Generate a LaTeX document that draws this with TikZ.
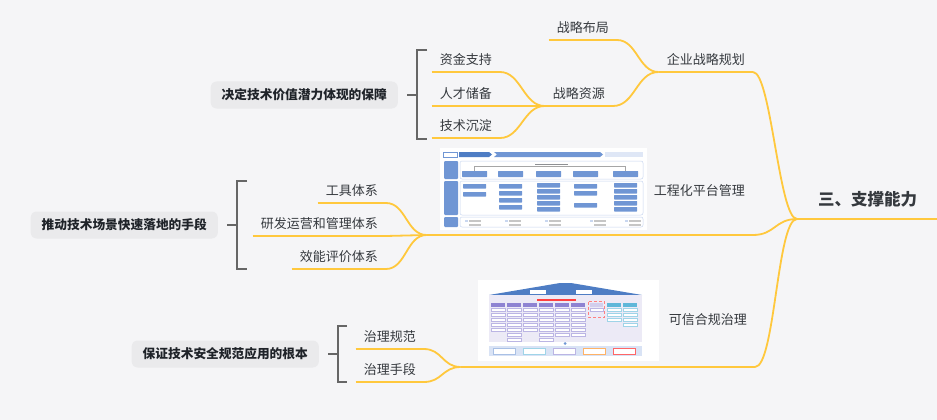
\documentclass[tikz,border=0pt]{standalone}
\usepackage{fontspec}
\setmainfont{Noto Sans CJK SC}
\usetikzlibrary{positioning}
\definecolor{canvas}{HTML}{F5F5F7}
\definecolor{branch}{HTML}{FFC83D}
\definecolor{bracketgray}{HTML}{666666}
\definecolor{boxgray}{HTML}{EAEAEC}
\definecolor{inkdark}{HTML}{1F2329}
\definecolor{shotblue}{HTML}{7096D4}
\definecolor{shotlight}{HTML}{C9D7F0}
\definecolor{roofblue}{HTML}{4E7DC4}
\definecolor{lavender}{HTML}{ECEAF6}
\definecolor{shotviolet}{HTML}{8E83D2}
\definecolor{shotcyan}{HTML}{5FB7D9}
\tikzset{%
  % Specifications for style of nodes:
       topic/.style = {inner sep=0pt, inner xsep=8pt, minimum height=24pt,
                       text=inkdark!90, font=\fontsize{13}{15}\selectfont},
     rootbox/.style = {topic, inner xsep=21pt, minimum height=40pt,
                       font=\fontsize{16.5}{19}\selectfont\bfseries},
      sumbox/.style = {rectangle, rounded corners=6pt, fill=boxgray,
                       inner sep=0pt, inner xsep=11pt, minimum height=27pt,
                       text=inkdark, font=\fontsize{12.7}{15}\selectfont\bfseries},
        link/.style = {draw=branch, line width=1.8pt},
     summary/.style = {draw=bracketgray, line width=1.8pt},
        cell/.style = {fill=shotblue, rounded corners=0.5pt},
   housecell/.style = {fill=white, draw=shotviolet!60, line width=0.3pt},
}
\begin{document}
\begin{tikzpicture}[x=1pt, y=-1pt]
  \fill[canvas] (0,0) rectangle (937,420);
  \useasboundingbox (0,0) rectangle (937,420);
  % Specification of nodes (position, etc.)
  \node (root) [rootbox, anchor=south west] at (797,219) {三、支撑能力};
  \node (qy)   [topic, anchor=south east] at (753,72)  {企业战略规划};
  \node (zlbj) [topic, anchor=south east] at (617,40)  {战略布局};
  \node (zlzy) [topic, anchor=south east] at (613,106) {战略资源};
  \node (zj)   [topic, anchor=south east] at (500,72)  {资金支持};
  \node (rc)   [topic, anchor=south east] at (500,106) {人才储备};
  \node (js)   [topic, anchor=south east] at (500,138) {技术沉淀};
  \node (eng)  [topic, anchor=south east, text width=310pt, align=right,
                minimum height=88pt] at (753,235) {工程化平台管理};
  \node (gj)   [topic, anchor=south east] at (386,203) {工具体系};
  \node (yf)   [topic, anchor=south east] at (386,236) {研发运营和管理体系};
  \node (xn)   [topic, anchor=south east] at (386,269) {效能评价体系};
  \node (kx)   [topic, anchor=south east, text width=278pt, align=right,
                minimum height=94pt] at (755,367) {可信合规治理};
  \node (zlgf) [topic, anchor=south east] at (424,349) {治理规范};
  \node (zlsd) [topic, anchor=south east] at (424,382) {治理手段};

  % summary brackets with their boxes
  \coordinate (b1) at (417,95);
  \coordinate (b2) at (237,225);
  \coordinate (b3) at (338,354);
  \draw[summary] (427,50)  -| (417,139) -- ++(10,0);
  \draw[summary] (247,181) -| (237,269) -- ++(10,0);
  \draw[summary] (347,326) -| (338,382) -- ++(9,0);
  \node (bz) [sumbox, left=19pt of b1] {决定技术价值潜力体现的保障};
  \node (tj) [sumbox, left=19pt of b2] {推动技术场景快速落地的手段};
  \node (bg) [sumbox, left=19pt of b3] {保证技术安全规范应用的根本};
  \draw[summary] ([xshift=9pt]bz.east) -- (b1);
  \draw[summary] ([xshift=9pt]tj.east) -- (b2);
  \draw[summary] ([xshift=9pt]bg.east) -- (b3);

  % screenshot of the platform
  \fill[white] (440,148) rectangle (647,230);
  \draw[shotblue, line width=0.5pt] (443,152) rectangle (457,157);
  \fill[roofblue] (459,152) -- (489,152) -- (492,154.5) -- (489,157) -- (459,157) -- cycle;
  \fill[shotblue] (494,152) -- (600,152) -- (603,154.5) -- (600,157) -- (494,157) -- (497,154.5) -- cycle;
  \fill[shotlight!60] (605,152) rectangle (643,157);
  \foreach \ya/\yb in {161/179,181/215,217/227} {
    \fill[shotblue, rounded corners=1pt] (444,\ya) rectangle (458,\yb);
    \draw[shotlight, rounded corners=2pt, line width=0.5pt] (460,\ya) rectangle (643,\yb);
  }
  \draw[gray!70, line width=0.4pt] (474.5,171) |- (625.5,166) -- (625.5,171);
  \fill[inkdark!50] (535,163.5) rectangle (568,165);
  \foreach \x in {462,498,536,573,613}
    \fill[cell] (\x,171) rectangle ++(25,6);
  \foreach \x/\ys in {463/{184,192},499/{184,191,198,205},537/{183,189,195,201,207},
                      574/{184,191,203},614/{183,189,195,201,207}}
    \foreach \y in \ys
      \fill[cell] (\x,\y) rectangle ++(23,4.5);
  \foreach \x in {465,505,545,590,625} {
    \fill[shotlight] (\x,219.5) rectangle ++(2.5,2.5);
    \fill[gray!45] (\x+4,220) rectangle ++(12,1.5);
    \fill[gray!45] (\x+4,224) rectangle ++(12,1.5);
  }

  % screenshot of the governance house
  \fill[white] (478,280) rectangle (659,361);
  \fill[roofblue] (489,295) -- (560,283) -- (571,283) -- (642,295) -- cycle;
  \fill[white] (530,289.5) rectangle ++(16,4);
  \fill[white] (576,289.5) rectangle ++(16,4);
  \fill[lavender] (489,295) rectangle (642,342);
  \fill[red!75] (537,298.5) rectangle (576,301);
  \foreach \x/\n in {491/5,507/7,523/5,539/7,555/6,571/6} {
    \fill[shotviolet] (\x,303) rectangle ++(14,3.5);
    \foreach \r in {1,...,\n}
      \filldraw[housecell] (\x,303+5*\r) rectangle ++(14,3.5);
  }
  \draw[red!50, densely dashed, line width=0.3pt] (588.5,301.5) rectangle (604.5,317);
  \fill[shotviolet!40] (590,303) rectangle ++(13,3.5);
  \filldraw[housecell] (590,308) rectangle ++(13,3.5);
  \foreach \x/\n in {607/3,623/4} {
    \fill[shotcyan] (\x,303) rectangle ++(14,3.5);
    \foreach \r in {1,...,\n}
      \filldraw[housecell, draw=shotcyan!60] (\x,303+5*\r) rectangle ++(14,3.5);
  }
  \fill[shotblue] (565,343.5) circle (1.5);
  \fill[shotlight!70] (489,346) rectangle (642,356);
  \foreach \x/\c in {493/shotblue,523/shotcyan,553/shotviolet,583/orange,613/red}
    \filldraw[fill=white, draw=\c!60, line width=0.4pt] (\x,348) rectangle ++(22,6);

  % Specification of lines between nodes specified above
  \foreach \n in {root,qy,zlbj,zlzy,zj,rc,js,eng,gj,yf,xn,kx,zlgf,zlsd}
    \draw[link] (\n.south west) -- (\n.south east);
  \draw[link] (root.south west) .. controls +(-18,0) and +(18,0) .. (qy.south east);
  \draw[link] (root.south west) .. controls +(-22,0) and +(22,0) .. (eng.south east);
  \draw[link] (root.south west) .. controls +(-20,0) and +(20,0) .. (kx.south east);
  \draw[link] (qy.south west) .. controls +(-20,0) and +(20,0) .. (zlbj.south east);
  \draw[link] (qy.south west) .. controls +(-22,0) and +(22,0) .. (zlzy.south east);
  \draw[link] (zlzy.south west) .. controls +(-21,0) and +(21,0) .. (zj.south east);
  \draw[link] (zlzy.south west) -- (rc.south east);
  \draw[link] (zlzy.south west) .. controls +(-21,0) and +(21,0) .. (js.south east);
  \draw[link] (eng.south west) .. controls +(-20,0) and +(20,0) .. (gj.south east);
  \draw[link] (eng.south west) -- (yf.south east);
  \draw[link] (eng.south west) .. controls +(-20,0) and +(20,0) .. (xn.south east);
  \draw[link] (kx.south west) .. controls +(-18,0) and +(18,0) .. (zlgf.south east);
  \draw[link] (kx.south west) .. controls +(-18,0) and +(18,0) .. (zlsd.south east);
\end{tikzpicture}
\end{document}
